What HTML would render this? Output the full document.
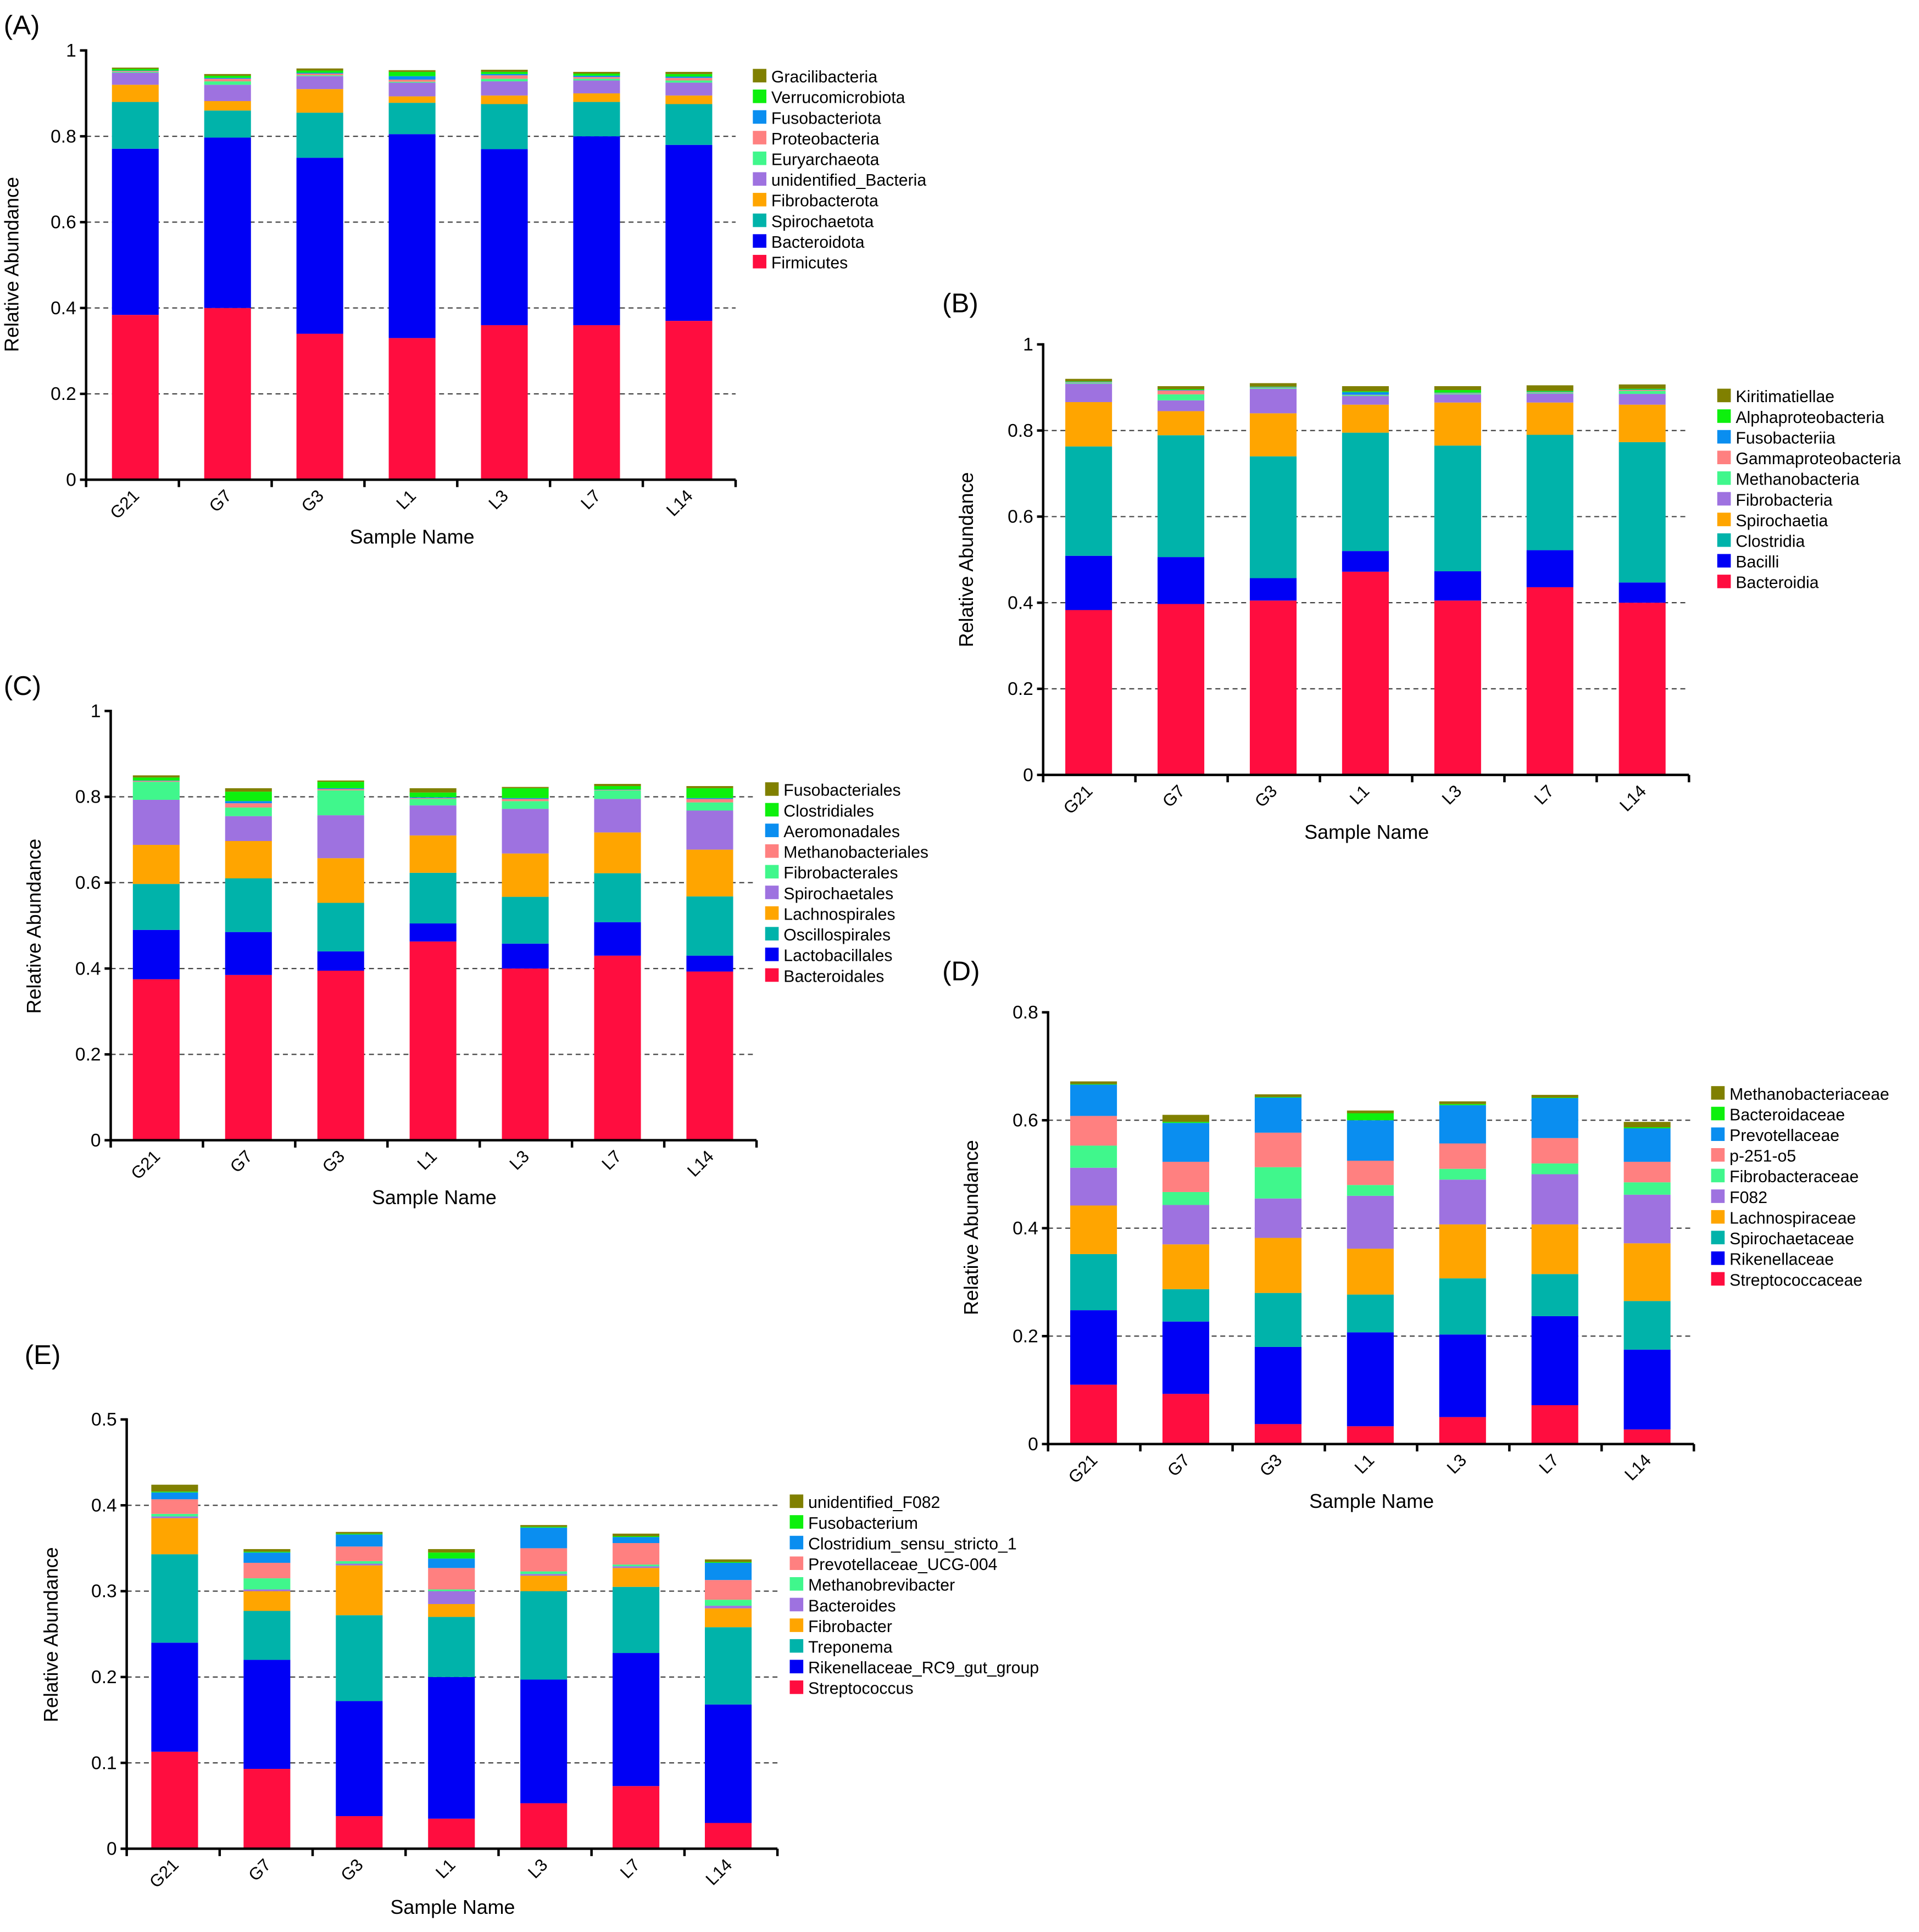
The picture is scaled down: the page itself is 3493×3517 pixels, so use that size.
<!DOCTYPE html>
<html><head><meta charset="utf-8"><style>
html,body{margin:0;padding:0;background:#fff}
svg{display:block}
text{font-family:"Liberation Sans Narrow","Liberation Sans",sans-serif;fill:#000}
.t{font-family:"Liberation Sans",sans-serif}
</style></head><body>
<svg id="fig" width="3493" height="3517" viewBox="0 0 1560 1570.7" preserveAspectRatio="none" xmlns="http://www.w3.org/2000/svg"></svg>
<script>
const samples = ["G21","G7","G3","L1","L3","L7","L14"];
const colors = ["#ff0d3f","#0000f5","#00b3aa","#ffa500","#9e72e0","#40f78c","#ff8080","#0a8ef0","#0df00d","#808000"];

// Panel A — cumulative tops per taxon (stack order bottom→top)
const namesA = ["Firmicutes","Bacteroidota","Spirochaetota","Fibrobacterota","unidentified_Bacteria","Euryarchaeota","Proteobacteria","Fusobacteriota","Verrucomicrobiota","Gracilibacteria"];
const cumA = [
 [0.384,0.40,0.34,0.33,0.36,0.36,0.37],
 [0.771,0.797,0.75,0.805,0.77,0.80,0.78],
 [0.88,0.86,0.855,0.878,0.875,0.88,0.875],
 [0.92,0.882,0.91,0.893,0.895,0.90,0.895],
 [0.948,0.92,0.94,0.925,0.928,0.93,0.925],
 [0.950,0.928,0.942,0.927,0.934,0.934,0.930],
 [0.952,0.934,0.946,0.932,0.942,0.938,0.936],
 [0.953,0.936,0.948,0.940,0.945,0.941,0.939],
 [0.957,0.941,0.953,0.950,0.950,0.946,0.945],
 [0.960,0.945,0.958,0.954,0.955,0.950,0.950]];
// Panel B
const namesB = ["Bacteroidia","Bacilli","Clostridia","Spirochaetia","Fibrobacteria","Methanobacteria","Gammaproteobacteria","Fusobacteriia","Alphaproteobacteria","Kiritimatiellae"];
const cumB = [
 [0.383,0.397,0.405,0.472,0.405,0.436,0.40],
 [0.509,0.506,0.457,0.52,0.473,0.522,0.447],
 [0.763,0.789,0.74,0.795,0.765,0.79,0.773],
 [0.866,0.845,0.84,0.86,0.865,0.865,0.86],
 [0.909,0.870,0.897,0.880,0.884,0.886,0.885],
 [0.911,0.884,0.899,0.882,0.886,0.888,0.892],
 [0.912,0.893,0.900,0.883,0.887,0.889,0.894],
 [0.913,0.894,0.901,0.889,0.888,0.890,0.895],
 [0.914,0.896,0.902,0.891,0.894,0.892,0.897],
 [0.920,0.903,0.910,0.903,0.903,0.905,0.907]];
// Panel C
const namesC = ["Bacteroidales","Lactobacillales","Oscillospirales","Lachnospirales","Spirochaetales","Fibrobacterales","Methanobacteriales","Aeromonadales","Clostridiales","Fusobacteriales"];
const cumC = [
 [0.375,0.385,0.395,0.463,0.40,0.43,0.393],
 [0.49,0.485,0.44,0.505,0.458,0.508,0.43],
 [0.597,0.61,0.553,0.623,0.567,0.622,0.568],
 [0.688,0.697,0.657,0.71,0.668,0.717,0.677],
 [0.793,0.755,0.757,0.78,0.772,0.795,0.768],
 [0.835,0.775,0.815,0.795,0.79,0.815,0.787],
 [0.837,0.785,0.818,0.797,0.795,0.816,0.795],
 [0.838,0.790,0.820,0.799,0.797,0.817,0.797],
 [0.845,0.812,0.835,0.810,0.820,0.825,0.820],
 [0.850,0.820,0.838,0.820,0.823,0.830,0.825]];
// Panel D
const namesD = ["Streptococcaceae","Rikenellaceae","Spirochaetaceae","Lachnospiraceae","F082","Fibrobacteraceae","p-251-o5","Prevotellaceae","Bacteroidaceae","Methanobacteriaceae"];
const cumD = [
 [0.11,0.093,0.037,0.033,0.05,0.072,0.027],
 [0.248,0.227,0.18,0.207,0.203,0.237,0.175],
 [0.352,0.287,0.28,0.277,0.307,0.315,0.265],
 [0.442,0.37,0.382,0.362,0.407,0.407,0.372],
 [0.512,0.443,0.455,0.46,0.49,0.50,0.462],
 [0.553,0.467,0.513,0.48,0.51,0.52,0.485],
 [0.608,0.523,0.577,0.525,0.557,0.567,0.523],
 [0.666,0.595,0.642,0.60,0.628,0.641,0.585],
 [0.667,0.597,0.643,0.613,0.630,0.642,0.587],
 [0.672,0.61,0.648,0.618,0.635,0.647,0.597]];
// Panel E
const namesE = ["Streptococcus","Rikenellaceae_RC9_gut_group","Treponema","Fibrobacter","Bacteroides","Methanobrevibacter","Prevotellaceae_UCG-004","Clostridium_sensu_stricto_1","Fusobacterium","unidentified_F082"];
const cumE = [
 [0.113,0.093,0.038,0.035,0.053,0.073,0.03],
 [0.24,0.22,0.172,0.20,0.197,0.228,0.168],
 [0.343,0.277,0.272,0.27,0.30,0.305,0.258],
 [0.385,0.30,0.33,0.285,0.318,0.327,0.28],
 [0.387,0.302,0.332,0.30,0.32,0.329,0.283],
 [0.39,0.315,0.335,0.302,0.323,0.331,0.29],
 [0.407,0.333,0.352,0.327,0.35,0.356,0.313],
 [0.415,0.345,0.366,0.338,0.374,0.363,0.333],
 [0.416,0.346,0.367,0.345,0.375,0.364,0.334],
 [0.424,0.349,0.369,0.349,0.377,0.367,0.337]];

const NS="http://www.w3.org/2000/svg";
const svg=document.getElementById('fig');
function mk(tag,attrs,parent,txt){const e=document.createElementNS(NS,tag);for(const k in attrs)e.setAttribute(k,attrs[k]);if(txt!==undefined)e.textContent=txt;(parent||svg).appendChild(e);return e;}

const panels=[
 {id:"a",label:"(A)",lx:3,ly:28,ax:70,y0:390,unit:349,ticks:[0,0.2,0.4,0.6,0.8,1],tl:["0","0.2","0.4","0.6","0.8","1"],c0:110,xend:598,names:namesA,cum:cumA,legx:612,legy:62,ytx:15,yty:215,xtx:335,xty:442},
 {id:"b",label:"(B)",lx:766,ly:254,ax:848,y0:630,unit:350,ticks:[0,0.2,0.4,0.6,0.8,1],tl:["0","0.2","0.4","0.6","0.8","1"],c0:885,xend:1373,names:namesB,cum:cumB,legx:1396,legy:322,ytx:791,yty:455,xtx:1111,xty:682},
 {id:"c",label:"(C)",lx:3,ly:565,ax:90,y0:927,unit:349,ticks:[0,0.2,0.4,0.6,0.8,1],tl:["0","0.2","0.4","0.6","0.8","1"],c0:127,xend:615,names:namesC,cum:cumC,legx:622,legy:642,ytx:33,yty:753,xtx:353,xty:979},
 {id:"d",label:"(D)",lx:766,ly:797,ax:852,y0:1174,unit:438.75,ticks:[0,0.2,0.4,0.6,0.8],tl:["0","0.2","0.4","0.6","0.8"],c0:889,xend:1377,names:namesD,cum:cumD,legx:1391,legy:889,ytx:795,yty:998,xtx:1115,xty:1226},
 {id:"e",label:"(E)",lx:20,ly:1109,ax:103,y0:1503,unit:698,ticks:[0,0.1,0.2,0.3,0.4,0.5],tl:["0","0.1","0.2","0.3","0.4","0.5"],c0:142,xend:632,names:namesE,cum:cumE,legx:642,legy:1221,ytx:47,yty:1329,xtx:368,xty:1556}
];

panels.forEach(p=>{
 const g=mk('g',{});
 
 
 const yS=v=>p.y0-v*p.unit;
 const xS=i=>p.c0+i*75;
 const bw=38;
 const lab=mk('text',{x:p.lx,y:p.ly,'font-size':22,class:'t'},g,p.label);
 
 
 p.ticks.forEach((t,k)=>{
  if(t>0 && k<p.ticks.length-1){const gl=mk('line',{x1:p.ax,x2:p.xend,y1:yS(t),y2:yS(t),stroke:'#444','stroke-width':1,'stroke-dasharray':'4,3'},g);
   
   }
 });
 samples.forEach((s,i)=>{
  let prev=0;
  p.cum.forEach((row,j)=>{
   const top=row[i];
   const r=mk('rect',{x:xS(i)-bw/2,y:yS(top),width:bw,height:Math.max(0,yS(prev)-yS(top)),fill:colors[j]},g);
   
   
   prev=top;
  });
 });
 const ya=mk('line',{x1:p.ax,x2:p.ax,y1:yS(p.ticks[p.ticks.length-1])-1,y2:p.y0+1,stroke:'#000','stroke-width':2},g);
 
 
 const xa=mk('line',{x1:p.ax-1,x2:p.xend,y1:p.y0,y2:p.y0,stroke:'#000','stroke-width':2},g);
 
 
 p.ticks.forEach((t,k)=>{
  mk('line',{x1:p.ax-5,x2:p.ax,y1:yS(t),y2:yS(t),stroke:'#000','stroke-width':2},g);
  const tl=mk('text',{x:p.ax-8,y:yS(t)+5,'font-size':15,'text-anchor':'end'},g,p.tl[k]);
  
  
 });
 for(let i=0;i<=samples.length;i++){
  const x=p.ax+i*(p.xend-p.ax)/samples.length;
  mk('line',{x1:x,x2:x,y1:p.y0,y2:p.y0+6,stroke:'#000','stroke-width':2},g);
 }
 samples.forEach((s,i)=>{
  const x=xS(i)+4,y=p.y0+14;
  const tl=mk('text',{x:x,y:y,'font-size':14,'text-anchor':'end',transform:`rotate(-45 ${x} ${y})`},g,s);
  
  
 });
 const yt=mk('text',{x:p.ytx,y:p.yty,'font-size':16,'text-anchor':'middle',class:'t',transform:`rotate(-90 ${p.ytx} ${p.yty})`},g,'Relative Abundance');
 
 
 const xt=mk('text',{x:p.xtx,y:p.xty,'font-size':16,'text-anchor':'middle',class:'t'},g,'Sample Name');
 
 
 for(let k=0;k<p.names.length;k++){
  const j=p.names.length-1-k;
  const y=p.legy+k*16.8;
  const le=mk('g',{},g);
  
  
  mk('rect',{x:p.legx,y:y-6,width:11,height:11,fill:colors[j]},le);
  mk('text',{x:p.legx+15,y:y+5,'font-size':13.5},le,p.names[j]);
 }
});
</script>
</body></html>
